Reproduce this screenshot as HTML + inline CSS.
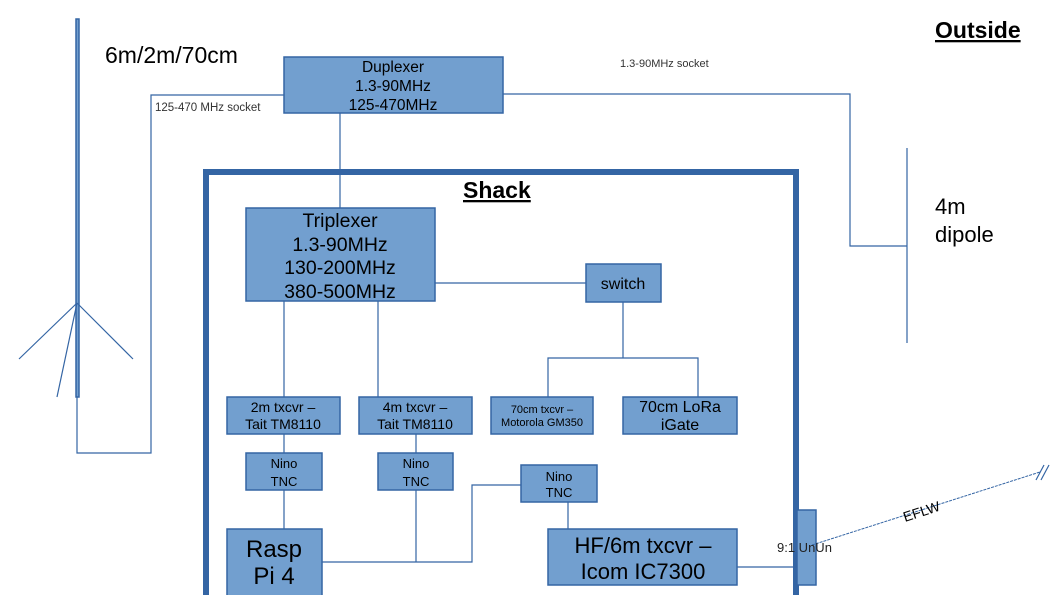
<!DOCTYPE html>
<html><head><meta charset="utf-8"><style>
body{margin:0;background:#fff}
svg{display:block;font-family:"Liberation Sans",sans-serif}
.b{fill:#729fcf;stroke:#3465a4;stroke-width:1.5}
.l{stroke:#3465a4;stroke-width:1.2;fill:none}
</style></head><body>
<svg width="1058" height="595" viewBox="0 0 1058 595">
<rect x="76" y="19" width="3" height="378" class="b" stroke-width="1"/>
<path class="l" d="M77 303 L19 359 M77 303 L133 359 M77 303 L57 397"/>
<path class="l" d="M77 397 V453 H151 V95 H284"/>
<text x="105" y="63" font-size="23">6m/2m/70cm</text>
<text x="155" y="111" font-size="11.5" fill="#333">125-470 MHz socket</text>
<text x="620" y="67" font-size="11" fill="#333">1.3-90MHz socket</text>
<rect x="284" y="57" width="219" height="56" class="b"/>
<text font-size="15.5" text-anchor="middle"><tspan x="393" y="72">Duplexer</tspan><tspan x="393" y="91">1.3-90MHz</tspan><tspan x="393" y="110">125-470MHz</tspan></text>
<path class="l" d="M503 94 H850 V246 H907 M907 148 V343 M340 113 V208"/>
<text x="935" y="214" font-size="22">4m</text>
<text x="935" y="242" font-size="22">dipole</text>
<text x="935" y="38" font-size="23" font-weight="bold" text-decoration="underline">Outside</text>
<path d="M206 600 V172 H796 V600" fill="none" stroke="#3465a4" stroke-width="6"/>
<text x="463" y="198" font-size="23" font-weight="bold" text-decoration="underline">Shack</text>
<rect x="246" y="208" width="189" height="93" class="b"/>
<text font-size="19.5" text-anchor="middle"><tspan x="340" y="227">Triplexer</tspan><tspan x="340" y="251">1.3-90MHz</tspan><tspan x="340" y="274">130-200MHz</tspan><tspan x="340" y="298">380-500MHz</tspan></text>
<path class="l" d="M435 283 H586 M623 302 V358 M548 397 V358 H698 V397 M284 301 V397 M378 301 V397 M284 434 V453 M416 434 V453 M284 490 V529 M416 490 V562 M322 562 H472 V485 H521 M568 502 V529 M737 567 H797"/>
<rect x="586" y="264" width="75" height="38" class="b"/>
<text x="623" y="289" font-size="16" text-anchor="middle">switch</text>
<rect x="491" y="397" width="102" height="37" class="b"/>
<text font-size="11" text-anchor="middle"><tspan x="542" y="413">70cm txcvr –</tspan><tspan x="542" y="426">Motorola GM350</tspan></text>
<rect x="623" y="397" width="114" height="37" class="b"/>
<text font-size="16" text-anchor="middle"><tspan x="680" y="412">70cm LoRa</tspan><tspan x="680" y="430">iGate</tspan></text>
<rect x="227" y="397" width="113" height="37" class="b"/>
<text font-size="14" text-anchor="middle"><tspan x="283" y="412">2m txcvr –</tspan><tspan x="283" y="429">Tait TM8110</tspan></text>
<rect x="359" y="397" width="113" height="37" class="b"/>
<text font-size="14" text-anchor="middle"><tspan x="415" y="412">4m txcvr –</tspan><tspan x="415" y="429">Tait TM8110</tspan></text>
<rect x="246" y="453" width="76" height="37" class="b"/>
<text font-size="13" text-anchor="middle"><tspan x="284" y="468">Nino</tspan><tspan x="284" y="486">TNC</tspan></text>
<rect x="378" y="453" width="75" height="37" class="b"/>
<text font-size="13" text-anchor="middle"><tspan x="416" y="468">Nino</tspan><tspan x="416" y="486">TNC</tspan></text>
<rect x="521" y="465" width="76" height="37" class="b"/>
<text font-size="13" text-anchor="middle"><tspan x="559" y="481">Nino</tspan><tspan x="559" y="497">TNC</tspan></text>
<rect x="227" y="529" width="95" height="70" class="b"/>
<text font-size="24" text-anchor="middle"><tspan x="274" y="557">Rasp</tspan><tspan x="274" y="584">Pi 4</tspan></text>
<rect x="548" y="529" width="189" height="56" class="b"/>
<text font-size="22" text-anchor="middle"><tspan x="643" y="553">HF/6m txcvr –</tspan><tspan x="643" y="579">Icom IC7300</tspan></text>
<rect x="797" y="510" width="19" height="75" class="b"/>
<path d="M812 545 L1040 472" stroke="#3465a4" stroke-width="1" stroke-dasharray="3,1"/>
<path class="l" d="M1036 480 L1044 465 M1041 480 L1049 465"/>
<text x="777" y="552" font-size="13" fill="#222">9:1 UnUn</text>
<text x="905" y="522" font-size="14" transform="rotate(-18 905 522)">EFLW</text>
</svg>
</body></html>
